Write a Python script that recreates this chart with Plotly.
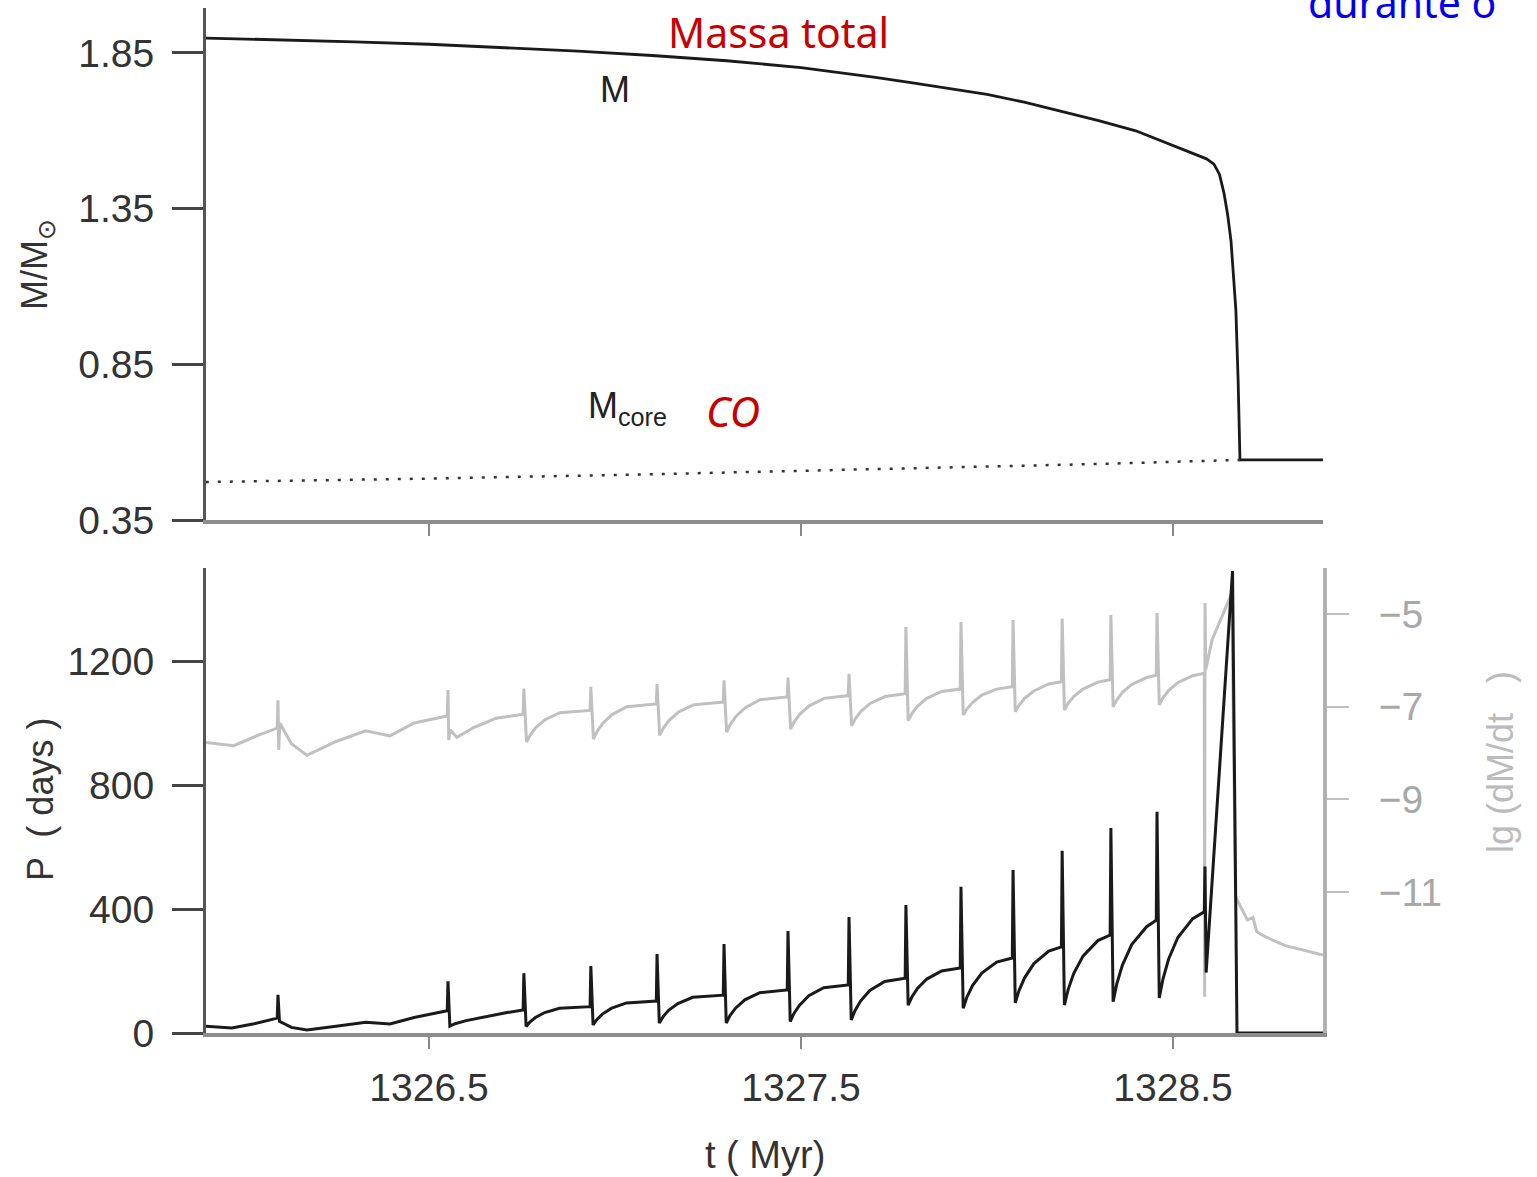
import plotly.graph_objects as go

# ---------------- data ----------------
# top panel: total mass M and CO core mass (solar masses) vs time (Myr)
t_M = [1325.900, 1326.100, 1326.300, 1326.500, 1326.700, 1326.900, 1327.100, 1327.300,
       1327.500, 1327.600, 1327.700, 1327.800, 1327.900, 1328.000, 1328.100, 1328.200,
       1328.300, 1328.400, 1328.470, 1328.550, 1328.590, 1328.610, 1328.625, 1328.637,
       1328.647, 1328.656, 1328.663, 1328.669, 1328.675, 1328.680, 1328.903]
M_total = [1.898, 1.893, 1.886, 1.878, 1.868, 1.856, 1.842, 1.825,
           1.803, 1.788, 1.772, 1.754, 1.736, 1.717, 1.692, 1.663,
           1.633, 1.600, 1.567, 1.530, 1.510, 1.493, 1.460, 1.400,
           1.330, 1.245, 1.140, 1.024, 0.800, 0.543, 0.543]

t_core = [1325.900, 1326.500, 1327.100, 1327.700, 1328.300, 1328.680]
M_core = [0.472, 0.483, 0.497, 0.513, 0.530, 0.543]

# bottom panel: pulsation period P (days)
t_P = [1325.900, 1325.970, 1326.030, 1326.092, 1326.094, 1326.098, 1326.130, 1326.172,
       1326.250, 1326.330, 1326.395, 1326.460, 1326.549,
       1326.551, 1326.556, 1326.570, 1326.600, 1326.660, 1326.710, 1326.753,
       1326.755, 1326.761, 1326.771, 1326.786, 1326.811, 1326.851, 1326.933,
       1326.935, 1326.941, 1326.951, 1326.966, 1326.991, 1327.031, 1327.111,
       1327.113, 1327.119, 1327.129, 1327.144, 1327.169, 1327.209, 1327.291,
       1327.293, 1327.299, 1327.309, 1327.324, 1327.349, 1327.389, 1327.463,
       1327.465, 1327.471, 1327.481, 1327.496, 1327.521, 1327.561, 1327.627,
       1327.629, 1327.635, 1327.645, 1327.660, 1327.685, 1327.725, 1327.780,
       1327.782, 1327.788, 1327.798, 1327.813, 1327.838, 1327.878, 1327.928,
       1327.930, 1327.936, 1327.946, 1327.961, 1327.986, 1328.026, 1328.068,
       1328.070, 1328.076, 1328.086, 1328.101, 1328.126, 1328.166, 1328.200,
       1328.202, 1328.208, 1328.218, 1328.233, 1328.258, 1328.298, 1328.331,
       1328.333, 1328.339, 1328.349, 1328.364, 1328.389, 1328.429, 1328.455,
       1328.457, 1328.463, 1328.473, 1328.488, 1328.513, 1328.553, 1328.584,
       1328.586, 1328.589, 1328.660, 1328.672, 1328.903]
P_days = [22, 16, 30, 48, 123, 38, 18, 10,
          22, 35, 29, 50, 72,
          167, 22, 30, 40, 55, 66, 74,
          193, 21, 35, 50, 66, 80, 85,
          216, 26, 43, 61, 80, 97, 103,
          255, 32, 52, 73, 95, 115, 122,
          287, 32, 56, 80, 107, 130, 139,
          329, 37, 63, 90, 120, 146, 155,
          374, 42, 72, 103, 137, 166, 177,
          413, 90, 116, 144, 174, 200, 210,
          472, 80, 116, 153, 193, 229, 242,
          526, 97, 137, 178, 224, 264, 278,
          588, 90, 140, 192, 248, 298, 316,
          661, 101, 159, 219, 285, 343, 364,
          714, 113, 174, 238, 308, 369, 391,
          537, 195, 1490, 0, 0]

# bottom panel: mass-loss rate lg(dM/dt)
t_lg = [1325.900, 1325.975, 1326.040, 1326.092, 1326.094, 1326.096, 1326.099, 1326.130,
        1326.172, 1326.250, 1326.330, 1326.395, 1326.460, 1326.549,
        1326.551, 1326.553, 1326.557, 1326.575, 1326.620, 1326.680, 1326.753,
        1326.755, 1326.762, 1326.772, 1326.787, 1326.812, 1326.852, 1326.933,
        1326.935, 1326.942, 1326.952, 1326.967, 1326.992, 1327.032, 1327.111,
        1327.113, 1327.120, 1327.130, 1327.145, 1327.170, 1327.210, 1327.291,
        1327.293, 1327.300, 1327.310, 1327.325, 1327.350, 1327.390, 1327.463,
        1327.465, 1327.472, 1327.482, 1327.497, 1327.522, 1327.562, 1327.627,
        1327.629, 1327.636, 1327.646, 1327.661, 1327.686, 1327.726, 1327.780,
        1327.782, 1327.788, 1327.798, 1327.813, 1327.838, 1327.878, 1327.928,
        1327.930, 1327.936, 1327.946, 1327.961, 1327.986, 1328.026, 1328.068,
        1328.070, 1328.076, 1328.086, 1328.101, 1328.126, 1328.166, 1328.200,
        1328.202, 1328.208, 1328.218, 1328.233, 1328.258, 1328.298, 1328.331,
        1328.333, 1328.339, 1328.349, 1328.364, 1328.389, 1328.429, 1328.455,
        1328.457, 1328.463, 1328.473, 1328.488, 1328.513, 1328.553, 1328.584,
        1328.585, 1328.586, 1328.588, 1328.605, 1328.658, 1328.668, 1328.690,
        1328.700, 1328.715, 1328.725, 1328.745, 1328.800, 1328.903]
lg_dMdt = [-7.77, -7.84, -7.62, -7.46, -6.86, -7.93, -7.35, -7.80,
           -8.05, -7.75, -7.52, -7.63, -7.35, -7.20,
           -6.64, -7.72, -7.50, -7.66, -7.45, -7.25, -7.16,
           -6.61, -7.76, -7.61, -7.45, -7.28, -7.13, -7.08,
           -6.57, -7.70, -7.53, -7.36, -7.17, -7.00, -6.94,
           -6.51, -7.62, -7.46, -7.30, -7.12, -6.96, -6.90,
           -6.43, -7.55, -7.38, -7.21, -7.02, -6.85, -6.79,
           -6.37, -7.48, -7.32, -7.16, -6.98, -6.82, -6.76,
           -6.29, -7.41, -7.26, -7.10, -6.93, -6.78, -6.72,
           -5.28, -7.30, -7.15, -6.99, -6.82, -6.67, -6.62,
           -5.17, -7.18, -7.05, -6.91, -6.75, -6.62, -6.57,
           -5.13, -7.11, -6.97, -6.82, -6.66, -6.51, -6.46,
           -5.10, -7.07, -6.93, -6.78, -6.62, -6.47, -6.42,
           -5.02, -7.00, -6.85, -6.69, -6.52, -6.37, -6.32,
           -4.98, -6.96, -6.81, -6.65, -6.48, -6.33, -6.28,
           -13.26, -4.76, -6.20, -5.56, -4.55, -11.10, -11.45,
           -11.60, -11.55, -11.85, -11.95, -12.15, -12.36]

x_ticks = [1326.5, 1327.5, 1328.5]
x_ticktext = ["1326.5", "1327.5", "1328.5"]
m_ticks = [0.35, 0.85, 1.35, 1.85]
m_ticktext = ["0.35", "0.85", "1.35", "1.85"]
p_ticks = [0, 400, 800, 1200]
p_ticktext = ["0", "400", "800", "1200"]
lg_ticks = [-5, -7, -9, -11]
lg_ticktext = ["\u22125", "\u22127", "\u22129", "\u221211"]

# ---------------- figure ----------------
W, H = 1537, 1177
L, R, T, B = 206, 214, 8, 144
PW, PH = W - L - R, H - T - B


def px(xp):
    return (xp - L) / PW


def py(yp):
    return (H - B - yp) / PH


FONT = "Liberation Sans, Arial, sans-serif"
HAND = "Noto Sans, DejaVu Sans, sans-serif"
XR = [1325.9005, 1328.9032]

fig = go.Figure()
fig.add_trace(go.Scatter(x=t_M, y=M_total, xaxis="x", yaxis="y", mode="lines",
                         line=dict(color="#1a1a1a", width=2.8), showlegend=False))
fig.add_trace(go.Scatter(x=t_core, y=M_core, xaxis="x", yaxis="y", mode="lines",
                         line=dict(color="#333333", width=2.5, dash="3px,9px"), showlegend=False))
fig.add_trace(go.Scatter(x=t_lg, y=lg_dMdt, xaxis="x2", yaxis="y2", mode="lines",
                         line=dict(color="#c0c0c0", width=3), showlegend=False))
fig.add_trace(go.Scatter(x=t_P, y=P_days, xaxis="x2", yaxis="y3", mode="lines",
                         line=dict(color="#1a1a1a", width=3), showlegend=False))

tickfont = dict(family=FONT, size=39, color="#333333")
common_x = dict(range=XR, showgrid=False, zeroline=False, showline=True, linecolor="#8c8c8c",
                linewidth=4, ticks="outside", ticklen=12, tickwidth=2, tickcolor="#888888",
                tickvals=x_ticks, ticktext=x_ticktext)

fig.update_layout(
    width=W, height=H,
    margin=dict(l=L, r=R, t=T, b=B, pad=0),
    paper_bgcolor="white", plot_bgcolor="white",
    showlegend=False,
    xaxis=dict(domain=[0, 1], anchor="y", showticklabels=False, **common_x),
    yaxis=dict(domain=[py(520), 1], anchor="x", range=[0.35, 1.9945], showgrid=False,
               zeroline=False, showline=True, linecolor="#555555", linewidth=3,
               ticks="outside", ticklen=31, tickwidth=3, tickcolor="#444444",
               tickvals=m_ticks, ticktext=m_ticktext, tickfont=tickfont, ticklabelstandoff=10),
    xaxis2=dict(domain=[0, 1], anchor="y2", showticklabels=True, tickfont=tickfont,
                ticklabelstandoff=5, **common_x),
    yaxis2=dict(domain=[0, py(568)], anchor="x2", side="right", range=[-14.04, -4.007],
                showgrid=False, zeroline=False, showline=True, linecolor="#b0b0b0", linewidth=4,
                ticks="outside", ticklen=22, tickwidth=2, tickcolor="#c0c0c0",
                tickvals=lg_ticks, ticktext=lg_ticktext,
                tickfont=dict(family=FONT, size=39, color="#a8a8a8"), ticklabelstandoff=22),
    yaxis3=dict(overlaying="y2", anchor="x2", side="left", range=[0, 1500],
                showgrid=False, zeroline=False, showline=True, linecolor="#555555", linewidth=3,
                ticks="outside", ticklen=31, tickwidth=3, tickcolor="#444444",
                tickvals=p_ticks, ticktext=p_ticktext, tickfont=tickfont, ticklabelstandoff=10),
)

ann = [
    dict(text="M/M<sub>\u2299</sub>", x=px(37), y=py(265), textangle=-90,
         font=dict(family=FONT, size=36, color="#333333")),
    dict(text="P  ( days )", x=px(40), y=py(800), textangle=-90,
         font=dict(family=FONT, size=36, color="#333333")),
    dict(text="lg (dM/dt   )", x=px(1500), y=py(762), textangle=-90,
         font=dict(family=FONT, size=36, color="#bbbbbb")),
    dict(text="t ( Myr)", x=px(765), y=py(1155),
         font=dict(family=FONT, size=38, color="#333333")),
    dict(text="M", x=px(615), y=py(90), font=dict(family=FONT, size=36, color="#222222")),
    dict(text="M<sub>core</sub>", x=px(586), y=py(408), xanchor="left",
         font=dict(family=FONT, size=36, color="#222222")),
    dict(text="Massa total", x=px(778), y=py(32),
         font=dict(family=HAND, size=41, color="#c80000")),
    dict(text="<i>CO</i>", x=px(733), y=py(410),
         font=dict(family=HAND, size=42, color="#c80000")),
    dict(text="durante o", x=px(1306), y=py(2), xanchor="left",
         font=dict(family=HAND, size=41, color="#0000f0")),
]
for a in ann:
    a.setdefault("xanchor", "center")
    a.update(xref="paper", yref="paper", showarrow=False, yanchor="middle")
fig.update_layout(annotations=ann)

fig.write_html("out.html")
